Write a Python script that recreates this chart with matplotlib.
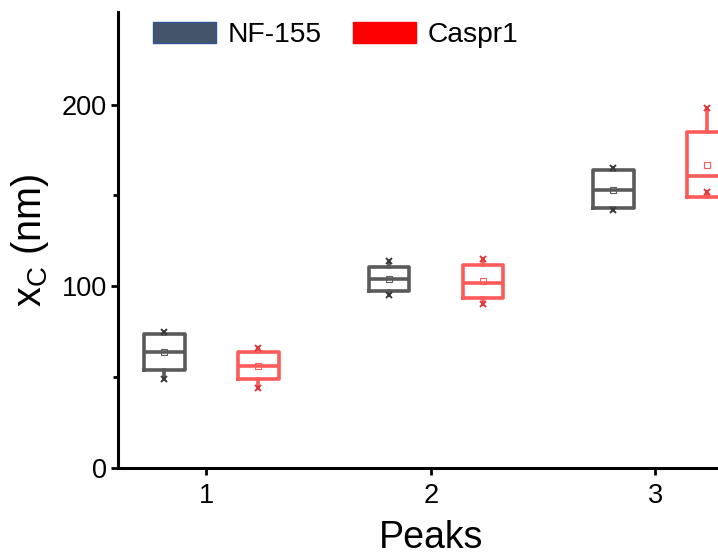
import matplotlib
matplotlib.use('Agg')
import matplotlib.pyplot as plt
from matplotlib.patches import Patch
import numpy as np

plt.rcParams['font.family'] = ['Liberation Sans', 'DejaVu Sans']
plt.rcParams['mathtext.fontset'] = 'custom'
plt.rcParams['mathtext.rm'] = 'Liberation Sans'
plt.rcParams['mathtext.it'] = 'Liberation Sans'

peaks = [1, 2, 3]
series = ['NF-155', 'Caspr1']

# box statistics (nm)
nf_lo = [49, 95, 142]
nf_q1 = [54, 97.5, 143]
nf_med = [64, 104, 153]
nf_q3 = [74, 110.5, 164]
nf_hi = [75, 114, 165]
nf_mean = [64, 104, 153]

cp_lo = [44, 90, 152]
cp_q1 = [49, 93.5, 149]
cp_med = [56, 102, 160.5]
cp_q3 = [64, 112, 185]
cp_hi = [66, 115, 198]
cp_mean = [56, 103, 167]

box_cols = ['#5a5a5a', '#ff5a5a']
mark_cols = ['#3a3a3a', '#e03838']
legend_face = ['#44546a', '#ff0000']
legend_edge = ['#2f5597', '#ff0000']

fig = plt.figure(figsize=(7.18, 5.59), dpi=100)
ax = fig.add_axes([118 / 718, 91 / 559, 627 / 718, 456 / 559])

offsets = [-0.186, 0.232]
groups = [(nf_lo, nf_q1, nf_med, nf_q3, nf_hi, nf_mean),
          (cp_lo, cp_q1, cp_med, cp_q3, cp_hi, cp_mean)]

for g, (lo, q1, med, q3, hi, mean) in enumerate(groups):
    stats = []
    for i in range(len(peaks)):
        stats.append(dict(whislo=lo[i], q1=q1[i], med=med[i], q3=q3[i],
                          whishi=hi[i], mean=mean[i], fliers=[]))
    pos = np.array(peaks) + offsets[g]
    c = box_cols[g]
    lp = dict(color=c, linewidth=2.6)
    ax.bxp(stats, positions=pos, widths=0.18, showcaps=False, showfliers=False,
           boxprops=lp, whiskerprops=lp, medianprops=lp, manage_ticks=False)
    ax.plot(pos, mean, linestyle='none', marker='s', markersize=4,
            markerfacecolor='white', markeredgecolor=c, markeredgewidth=0.8)
    ax.plot(pos, lo, linestyle='none', marker='x', markersize=4,
            color=mark_cols[g], markeredgewidth=1.4)
    ax.plot(pos, hi, linestyle='none', marker='x', markersize=4,
            color=mark_cols[g], markeredgewidth=1.4)

ax.set_xlim(0.607, 3.4)
ax.set_ylim(0, 251)
ax.set_xticks(peaks)
ax.set_yticks([0, 100, 200])
ax.set_yticks([50, 150], minor=True)
ax.spines['top'].set_visible(False)
ax.spines['right'].set_visible(False)
ax.spines['left'].set_linewidth(2.2)
ax.spines['bottom'].set_linewidth(2.2)
ax.tick_params(axis='both', which='major', direction='out', length=5, width=2)
ax.tick_params(axis='y', which='minor', direction='out', length=3.5, width=2)
ax.tick_params(axis='x', labelsize=19.5, pad=6)
ax.tick_params(axis='y', labelsize=19.5, pad=3)

ax.set_xlabel('Peaks', fontsize=27, labelpad=8)
ax.set_ylabel(r'$\mathregular{x_C}$ (nm)', fontsize=28.5, labelpad=8)

handles = [Patch(facecolor=legend_face[i], edgecolor=legend_edge[i], linewidth=1)
           for i in range(2)]
ax.legend(handles, series, loc='upper left', bbox_to_anchor=(153 / 718, 1 - 22 / 559),
          bbox_transform=fig.transFigure, ncol=2, frameon=False, fontsize=20.3,
          handlelength=2.23, handleheight=0.75, handletextpad=0.43,
          columnspacing=1.1, borderpad=0, borderaxespad=0)

plt.savefig('out.png', dpi=100, facecolor='white')
plt.close()
